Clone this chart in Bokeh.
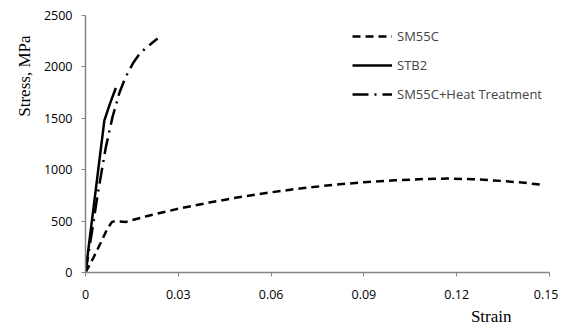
from bokeh.plotting import figure
from bokeh.models import Range1d, Legend, LegendItem, Title, FixedTicker
from bokeh.embed import file_html
from bokeh.resources import INLINE

# Data
sm55c_strain = [0, 0.0026, 0.0048, 0.0071, 0.0085, 0.0095, 0.013, 0.02, 0.03, 0.04, 0.05,
                0.06, 0.07, 0.08, 0.09, 0.10, 0.11, 0.117, 0.125, 0.135, 0.142, 0.148]
sm55c_stress = [0, 146, 282, 428, 490, 500, 492, 550, 620, 680, 735,
                780, 820, 852, 878, 897, 910, 914, 908, 890, 872, 852]

stb2_strain = [0, 0.0061, 0.008, 0.0098]
stb2_stress = [0, 1480, 1650, 1795]

ht_strain = [0, 0.002, 0.004, 0.0065, 0.0087, 0.011, 0.0129, 0.0155, 0.0171, 0.019, 0.0233]
ht_stress = [0, 380, 770, 1207, 1509, 1751, 1897, 2043, 2111, 2170, 2277]

x_ticks = [0, 0.03, 0.06, 0.09, 0.12, 0.15]
x_tick_labels = ["0", "0.03", "0.06", "0.09", "0.12", "0.15"]
y_ticks = [0, 500, 1000, 1500, 2000, 2500]

series_names = ["SM55C", "STB2", "SM55C+Heat Treatment"]
x_title = "Strain"
y_title = "Stress, MPa"

TICK_FONT = "Open Sans"
TITLE_FONT = "Liberation Serif"
AXIS_COLOR = "#868686"

p = figure(width=558, height=331, output_backend="svg", toolbar_location=None,
           x_range=Range1d(0, 0.15), y_range=Range1d(0, 2500),
           min_border_left=85, min_border_right=9, min_border_top=15, min_border_bottom=59)
p.outline_line_color = None
p.grid.visible = False
p.background_fill_color = "white"
p.border_fill_color = "white"

r1 = p.line(sm55c_strain, sm55c_stress, line_color="black", line_width=2.5, line_dash="8 5")
r2 = p.line(stb2_strain, stb2_stress, line_color="black", line_width=2.5)
r3 = p.line(ht_strain, ht_stress, line_color="black", line_width=2.5, line_dash="16 6 2 6")

for ax in (p.xaxis[0], p.yaxis[0]):
    ax.axis_line_color = AXIS_COLOR
    ax.axis_line_width = 1.5
    ax.major_tick_line_color = AXIS_COLOR
    ax.major_tick_in = 0
    ax.major_tick_out = 4
    ax.minor_tick_line_color = None
    ax.major_label_text_font = TICK_FONT
    ax.major_label_text_font_size = "12.5px"
    ax.major_label_text_color = "black"

p.xaxis[0].ticker = FixedTicker(ticks=x_ticks)
p.xaxis[0].major_label_overrides = {t: l for t, l in zip(x_ticks, x_tick_labels)}
p.xaxis[0].major_label_standoff = 13
p.yaxis[0].ticker = FixedTicker(ticks=y_ticks)
p.yaxis[0].major_label_standoff = 9

legend = Legend(items=[LegendItem(label=series_names[0], renderers=[r1]),
                       LegendItem(label=series_names[1], renderers=[r2]),
                       LegendItem(label=series_names[2], renderers=[r3])],
                location=(267, 168), orientation="vertical",
                glyph_width=40, glyph_height=20, label_height=20, label_standoff=5,
                spacing=9, padding=0, margin=0,
                border_line_color=None, background_fill_alpha=0,
                label_text_font=TICK_FONT, label_text_font_size="13px")
p.add_layout(legend, "center")

p.add_layout(Title(text=y_title, align="right", offset=20, standoff=13,
                   text_font=TITLE_FONT, text_font_size="17px", text_font_style="normal",
                   text_color="black"), "left")
p.add_layout(Title(text=x_title, align="right", offset=38, standoff=7,
                   text_font=TITLE_FONT, text_font_size="17px", text_font_style="normal",
                   text_color="black"), "below")

open("out.html", "w").write(file_html(p, INLINE))
